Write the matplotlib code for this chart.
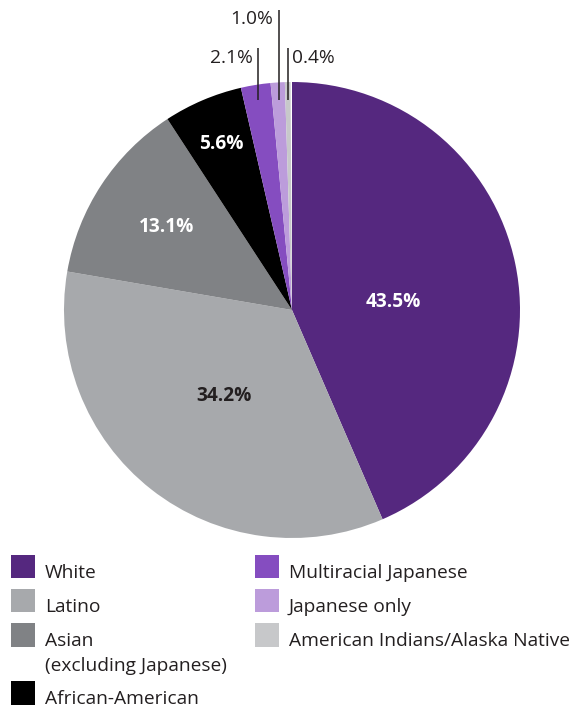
import numpy as np
import matplotlib
matplotlib.use("Agg")
import matplotlib.pyplot as plt
from matplotlib.patches import Rectangle

plt.rcParams["font.family"] = ["Open Sans", "DejaVu Sans"]

labels = ["White", "Latino", "Asian\n(excluding Japanese)", "African-American",
          "Multiracial Japanese", "Japanese only", "American Indians/Alaska Native"]
shares = [43.5, 34.2, 13.1, 5.6, 2.1, 1.0, 0.4]
colors = ["#55287f", "#a7a9ac", "#808285", "#000000", "#854dc0", "#bc9cdb", "#c7c8ca"]
pct_text = ["43.5%", "34.2%", "13.1%", "5.6%", "2.1%", "1.0%", "0.4%"]

W, H = 571, 707
fig = plt.figure(figsize=(W / 100, H / 100), dpi=100)

# pie axes: centre (292, 310), radius 228 px
cx, cy, R = 292, 310, 228
ax = fig.add_axes([(cx - R) / W, 1 - (cy + R) / H, 2 * R / W, 2 * R / H])

# shares sum to 99.9, so keep the small gap at the top
fracs = np.array(shares) / 100
wedges, _ = ax.pie(fracs, colors=colors, startangle=90, counterclock=False,
                   radius=1, normalize=False, wedgeprops=dict(linewidth=0))
ax.set_xlim(-1, 1)
ax.set_ylim(-1, 1)
ax.axis("off")

fs = 13.8
ink = "#231f20"

# labels inside the big slices: (radius, angle shift, text colour)
inside = {0: (0.445, -7.2, "white"), 1: (0.48, 0, ink),
          2: (0.66, 0, "white"), 3: (0.79, 0, "white")}
for i, (r, shift, tc) in inside.items():
    w = wedges[i]
    mid = np.deg2rad((w.theta1 + w.theta2) / 2 + shift)
    ax.text(r * np.cos(mid), r * np.sin(mid), pct_text[i], ha="center", va="center",
            color=tc, fontsize=fs, fontweight="bold")

# small slices: vertical leader lines (top of line, text height, side)
outside = {4: (1.149, 1.107, "right"), 5: (1.316, 1.276, "right"),
           6: (1.149, 1.107, "left")}
for i, (ytop, ytext, ha) in outside.items():
    w = wedges[i]
    mid = np.deg2rad((w.theta1 + w.theta2) / 2)
    ybot = 0.92
    x = ybot / np.tan(mid)
    ax.plot([x, x], [ybot, ytop], color=ink, lw=1.1, clip_on=False,
            solid_capstyle="butt")
    dx = -0.025 if ha == "right" else 0.018
    ax.text(x + dx, ytext, pct_text[i], ha=ha, va="center", fontsize=fs,
            color=ink, clip_on=False)

# legend drawn by hand
col_x = [11, 255]
rows = [[0, 1, 2, 3], [4, 5, 6]]
row_top = [554.5, 588.5, 623, 681]
sq = 23.5
for c, idxs in enumerate(rows):
    for r, i in enumerate(idxs):
        x0, y0 = col_x[c], row_top[r]
        fig.patches.append(Rectangle((x0 / W, 1 - (y0 + sq) / H), sq / W, sq / H,
                                     transform=fig.transFigure, facecolor=colors[i],
                                     edgecolor="none"))
        for k, line in enumerate(labels[i].split("\n")):
            fig.text((x0 + 34) / W, 1 - (y0 + sq + 24.5 * k) / H, line, ha="left",
                     va="baseline", fontsize=fs, color=ink)

fig.savefig("out.png", dpi=100)
